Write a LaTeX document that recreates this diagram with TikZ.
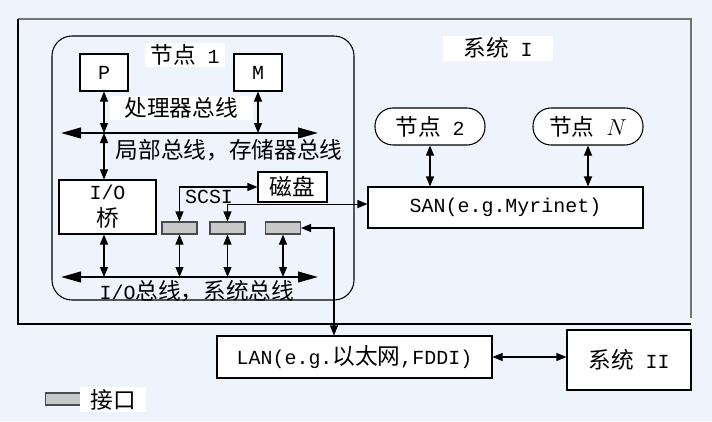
\documentclass[tikz,border=0pt]{standalone}
\usepackage{fontspec}
\setmainfont{Noto Sans CJK SC}
\newfontfamily\lat{Liberation Mono}[Scale=0.88]
\usepackage{tikz}
\usetikzlibrary{positioning}
\usetikzlibrary{arrows.meta}
\usetikzlibrary{calc}
\definecolor{bgblue}{RGB}{239,244,252}
\definecolor{portgray}{RGB}{200,200,200}

\begin{document}
\begin{tikzpicture}[x=0.75pt, y=-0.75pt]
    % \draw (0,0) grid (712,421);

    \def\pxl{0.75pt}
  \tikzset{box common/.style={draw, fill=white, inner sep=0pt, line width=0.8pt, font=\fontsize{17}{20}\selectfont}}
  \tikzset{unit box/.style={box common, minimum width=48*\pxl, minimum height=37*\pxl}}
  \tikzset{pill node/.style={box common, rounded corners=13.5pt, minimum width=110*\pxl, minimum height=37*\pxl}}
  \tikzset{port node/.style={draw=black!70, fill=portgray, line width=0.8pt, inner sep=0pt, minimum width=35*\pxl, minimum height=12*\pxl}}
  \tikzset{label text/.style={inner sep=1pt, font=\fontsize{17}{20}\selectfont}}
  \tikzset{bus line/.style={line width=1.5pt, {Triangle[length=15pt,width=8pt]}-{Triangle[length=15pt,width=8pt]}}}
  \tikzset{link/.style={line width=0.8pt, {Triangle[length=7.5pt,width=6pt]}-{Triangle[length=7.5pt,width=6pt]}}}

  \fill[bgblue] (0,0) rectangle (712,421);
  \useasboundingbox (0,0) rectangle (712,421);

  % system I
  \draw[black!55, line width=0.8pt] (18,19) -- (691,19) -- (691,318);
  \draw[line width=0.8pt] (18,19) -- (18,324) -- (691,324);
  \node[label text, fill=white, minimum width=110*\pxl, minimum height=25*\pxl] (sys1) at (498,48) {系统{\lat\ I}};

  % node 1
  \draw[line width=0.8pt, rounded corners=15pt] (52,36) rectangle (354,300);
  \node[label text, fill=white, minimum width=80*\pxl, minimum height=24*\pxl] (n1title) at (185,55) {节点{\lat\ 1}};

  \node[unit box] (P) at (104,72.5) {\lat P};
  \node[unit box] (M) at (258,72.5) {\lat M};
  %
  \coordinate (lbusL) at (61,133);
  \coordinate (lbusR) at (318,133);
  \draw[bus line] (lbusL) -- (lbusR);
  \node[label text, fill=white, minimum width=143*\pxl, minimum height=23*\pxl] (pbus) at (181,108) {处理器总线};
  \node[label text] (lbus) at (229,150) {局部总线，存储器总线};
  %
  \node[box common, minimum width=97*\pxl, minimum height=54*\pxl, align=center] (iob) at (107.5,207) {{\lat I/O}\\桥};
  \node[box common, minimum width=69*\pxl, minimum height=30*\pxl] (disk) at (292.5,187) {磁盘};
  \node[port node] (ifc1) at (179.5,228) {};
  \node[port node] (ifc2) at (227.5,228) {};
  \node[port node] (ifc3) at (283,228) {};
  \node[label text] (scsi) at (209,197) {\lat SCSI};
  %
  \coordinate (iobusL) at (61,277);
  \coordinate (iobusR) at (318,277);
  \draw[bus line] (iobusL) -- (iobusR);
  \node[label text] (iobus) at (197,291) {{\lat I/O}总线，系统总线};

  \draw[link] (P.south) -- (P.south |- lbusL);
  \draw[link] (M.south) -- (M.south |- lbusL);
  \draw[link] (P.south |- lbusL) -- (P.south |- iob.north);
  \draw[link] (P.south |- iob.south) -- (P.south |- iobusL);
  \foreach \n in {ifc1, ifc2, ifc3}
    \draw[link] (\n.south) -- (\n.south |- iobusL);
  \draw[link] (ifc1.north) |- (disk.west);

  % SAN side
  \node[box common, minimum width=275*\pxl, minimum height=41*\pxl] (san) at (505.5,207.5) {\lat SAN(e.g.Myrinet)};
  \node[pill node] (n2) at (430,126.5) {节点{\lat\ 2}};
  \node[pill node] (nN) at (588,126.5) {节点{\lat\ }$N$};
  \draw[link] (n2.south) -- (n2.south |- san.north);
  \draw[link] (nN.south) -- (nN.south |- san.north);
  \draw[link] (ifc2.north) |- ([yshift=2.6pt]san.west);

  % LAN and system II
  \node[box common, minimum width=275*\pxl, minimum height=42*\pxl] (lan) at (354.5,357) {{\lat LAN(e.g.}以太网{\lat ,FDDI)}};
  \node[box common, minimum width=124*\pxl, minimum height=60*\pxl] (sys2) at (629,360) {系统{\lat\ II}};
  \draw[link] (ifc3.east) -| ([xshift=-15.4pt]lan.north);
  \draw[link] (lan.east) -- (sys2.west |- lan.east);

  % legend
  \node[port node] (legend) at (63,399) {};
  \node[label text, fill=white, minimum width=66*\pxl, minimum height=25*\pxl] (legendtext) at (113,399.5) {接口};
\end{tikzpicture}
\end{document}
